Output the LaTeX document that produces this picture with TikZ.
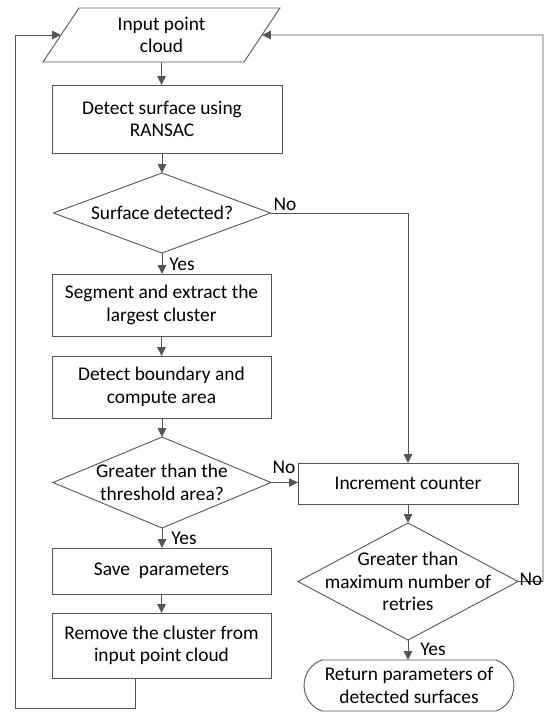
\documentclass[tikz,border=0pt]{standalone}
\usepackage{fontspec}
\setmainfont{Carlito}
\usetikzlibrary{shapes.geometric,shapes.misc,arrows.meta}
\definecolor{ln}{RGB}{85,85,85}
\begin{document}
\begin{tikzpicture}[x=1pt,y=-1pt,
  font=\fontsize{19.4}{22.5}\selectfont,
  every node/.style={inner sep=0pt,outer sep=0pt},
  procbox/.style={draw=ln,line width=0.9pt,rectangle,align=center},
  decbox/.style={draw=ln,line width=0.9pt,diamond},
  txt/.style={align=center},
  arr/.style={draw=ln,line width=0.9pt,-{Triangle[length=9pt,width=8.5pt]}},
  plain/.style={draw=ln,line width=0.9pt}
]
\useasboundingbox (0,0) rectangle (545,713);

\node[draw=ln,line width=0.9pt,trapezium,trapezium left angle=62,trapezium right angle=118,trapezium stretches=true,minimum width=237pt,minimum height=54pt,align=center] (input) at (161.5,35) {Input point\\cloud};

\node[procbox,minimum width=230pt,minimum height=68pt] (ransac) at (167,119) {};
\node[txt] (ransact) at (162,119) {Detect surface using\\RANSAC};

\node[decbox,minimum width=217pt,minimum height=80pt] (d1) at (162,213) {};
\node[txt] (d1t) at (d1) {Surface detected?};

\node[procbox,minimum width=219pt,minimum height=62pt] (seg) at (161.5,305) {Segment and extract the\\largest cluster};
\node[procbox,minimum width=219pt,minimum height=62pt] (bound) at (161.5,387) {Detect boundary and\\compute area};

\node[decbox,minimum width=218pt,minimum height=91pt] (d2) at (162,482.5) {};
\node[txt] (d2t) at (d2) {Greater than the\\threshold area?};

\node[procbox,minimum width=219pt,minimum height=46pt] (save) at (161.5,571) {Save\ \ parameters};
\node[procbox,minimum width=219pt,minimum height=65pt] (remove) at (161.5,645.5) {Remove the cluster from\\input point cloud};

\node[procbox,minimum width=220pt,minimum height=41pt] (inc) at (408,483.5) {Increment counter};

\node[decbox,minimum width=220pt,minimum height=117pt] (d3) at (408,581.5) {};
\node[txt] (d3t) at (d3) {Greater than\\maximum number of\\retries};

\node[draw=ln,line width=0.9pt,rounded rectangle,rounded rectangle arc length=140,minimum width=210pt,minimum height=51pt,align=center] (term) at (409,685.5) {Return parameters of\\detected surfaces};

% connectors
\draw[arr] (input.south) -- (input.south |- ransac.north);
\draw[arr] (d1.north |- ransac.south) -- (d1.north);
\draw[arr] (d1.south) -- (d1.south |- seg.north);
\draw[arr] (seg.south) -- (bound.north);
\draw[arr] (d2.north |- bound.south) -- (d2.north);
\draw[arr] (d2.south) -- (d2.south |- save.north);
\draw[arr] (save.south) -- (remove.north);

\coordinate (lp1) at (135,708);
\coordinate (lp2) at (15,708);
\draw[arr] (remove.south -| lp1) -- (lp1) -- (lp2) -- (lp2 |- input.west) -- (input.west);

\draw[arr] (d1.east) -- (d1.east -| inc.north) -- (inc.north);
\draw[arr] (d2.east) -- (d2.east -| inc.west);
\draw[arr] (inc.south) -- (d3.north);
\draw[arr] (d3.south) -- (d3.south |- term.north);

\coordinate (rp) at (543,35);
\draw[arr] (d3.east) -- (d3.east -| rp) -- (rp) -- (input.east);

% labels
\node (no1) at (285,204) {No};
\node (no2) at (284,467) {No};
\node (no3) at (531,579) {No};
\node (yes1) at (182,264) {Yes};
\node (yes2) at (184,538) {Yes};
\node (yes3) at (433,649) {Yes};
\end{tikzpicture}
\end{document}
